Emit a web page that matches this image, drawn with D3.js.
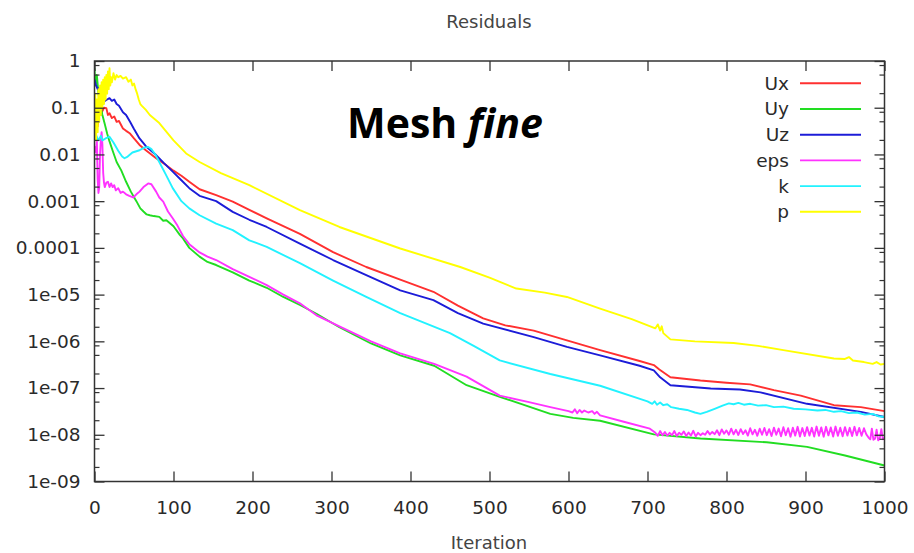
<!DOCTYPE html>
<html><head><meta charset="utf-8">
<script src="https://cdn.jsdelivr.net/npm/d3@7/dist/d3.min.js"></script>
<style>body{margin:0;background:#fff}svg{display:block}</style>
</head><body>
<svg id="chart" width="914" height="553"></svg>
<script>
// ---------- data ----------
const seriesNames = ["Ux", "Uy", "Uz", "eps", "k", "p"];
const seriesColors = ["#ff3030", "#22dd22", "#1c1cd8", "#ff33ff", "#22f2ff", "#ffff00"];
const xTickValues = [0, 100, 200, 300, 400, 500, 600, 700, 800, 900, 1000];
const yTickValues = [1, 0.1, 0.01, 0.001, 0.0001, 1e-5, 1e-6, 1e-7, 1e-8, 1e-9];
const yTickLabels = ["1", "0.1", "0.01", "0.001", "0.0001", "1e-05", "1e-06", "1e-07", "1e-08", "1e-09"];
const titleText = "Residuals";
const xLabelText = "Iteration";

const ux = [[0,0.03],[2,0.06],[4,0.04],[6,0.1],[8,0.07],[10,0.085],[12,0.1],[15,0.098],[17,0.07],[19,0.076],[22,0.06],[25,0.065],[28,0.05],[31,0.052],[36,0.036],[40,0.032],[45,0.028],[50,0.022],[57,0.016],[65,0.0123],[78,0.0083],[90,0.006],[100,0.0045],[110,0.0035],[120,0.0026],[133,0.0018],[154,0.00134],[175,9.8e-4],[196,6.5e-4],[218,4.3e-4],[260,2.0e-4],[302,8.1e-5],[344,3.9e-5],[387,2.1e-5],[429,1.15e-5],[460,5.8e-6],[492,3.1e-6],[520,2.2e-6],[556,1.7e-6],[598,1.05e-6],[640,6.5e-7],[690,3.8e-7],[708,3.1e-7],[715,2.5e-7],[729,1.7e-7],[767,1.45e-7],[800,1.3e-7],[830,1.2e-7],[860,9e-8],[894,6.9e-8],[936,4.3e-8],[970,3.9e-8],[1000,3.2e-8]];

const uy = [[0,0.7],[1,0.3],[3,0.5],[5,0.2],[7,0.12],[10,0.07],[13,0.045],[16,0.028],[19,0.019],[23,0.012],[28,0.0069],[34,0.0045],[40,0.0026],[46,0.0016],[53,0.001],[58,7e-4],[62,6e-4],[66,5.2e-4],[70,5e-4],[75,4.8e-4],[82,4.6e-4],[87,3.8e-4],[91,3.9e-4],[100,2.9e-4],[108,1.9e-4],[112,1.6e-4],[120,1e-4],[133,6.5e-5],[143,5e-5],[154,4.3e-5],[175,3e-5],[196,2e-5],[218,1.4e-5],[239,8.9e-6],[260,6e-6],[281,3.9e-6],[310,2e-6],[350,9e-7],[387,5e-7],[430,3e-7],[471,1.15e-7],[513,6.5e-8],[550,4e-8],[577,2.8e-8],[606,2.3e-8],[640,2e-8],[708,1.02e-8],[767,8.3e-9],[851,6.9e-9],[902,5.5e-9],[950,3.6e-9],[1000,2.2e-9]];

const uz = [[0,0.4],[2,0.3],[4,0.25],[6,0.26],[8,0.1],[10,0.12],[13,0.14],[16,0.15],[19,0.16],[22,0.14],[25,0.15],[28,0.12],[31,0.11],[36,0.08],[40,0.07],[45,0.05],[50,0.035],[57,0.022],[65,0.015],[78,0.0097],[88,0.0065],[99,0.0043],[110,0.0028],[120,0.0019],[133,0.0013],[154,0.001],[175,5.9e-4],[196,4e-4],[218,2.8e-4],[260,1.23e-4],[302,5.5e-5],[344,2.6e-5],[387,1.23e-5],[429,7.6e-6],[460,4e-6],[492,2.4e-6],[556,1.23e-6],[598,7.6e-7],[640,5e-7],[690,3e-7],[708,2.4e-7],[716,1.7e-7],[729,1.15e-7],[780,9.8e-8],[817,9.3e-8],[843,8.1e-8],[902,4.6e-8],[970,3.1e-8],[1000,2.4e-8]];

const eps = [[0,0.015],[2,0.011],[3,0.02],[4,0.003],[5,0.0015],[6,0.002],[7,0.01],[8,0.02],[9,0.03],[10,0.016],[11,0.004],[12,0.0025],[13,0.002],[15,0.0025],[17,0.0026],[19,0.002],[21,0.0024],[23,0.002],[25,0.0022],[27,0.0017],[30,0.0019],[33,0.0015],[36,0.0016],[40,0.0014],[44,0.0013],[49,0.0012],[53,0.0014],[57,0.0016],[62,0.002],[68,0.0024],[72,0.0023],[78,0.0016],[82,0.0012],[87,9.8e-4],[93,6e-4],[99,4.3e-4],[105,3e-4],[112,1.8e-4],[120,1.2e-4],[133,8e-5],[143,6.5e-5],[154,5.5e-5],[175,3.5e-5],[196,2.4e-5],[218,1.6e-5],[239,1e-5],[260,6.5e-6],[281,3.6e-6],[310,2.1e-6],[350,1e-6],[387,5.5e-7],[430,3.3e-7],[471,1.75e-7],[513,6.9e-8],[550,5e-8],[577,3.9e-8],[600,3.2e-8],[605,3e-8],[608,3.5e-8],[611,2.9e-8],[614,3.4e-8],[617,3e-8],[620,3.3e-8],[625,3e-8],[630,3.2e-8],[633,2.8e-8],[636,3.1e-8],[640,2.6e-8],[670,1.9e-8],[703,1.35e-8],
[710,1.1e-8],[713,9.5e-9],[716,1.2e-8],[719,9.8e-9],[722,1.15e-8],[725,9.6e-9],[728,1.1e-8],[731,9.8e-9],[734,1.2e-8],[737,9.5e-9],[740,1.1e-8],[743,1.0e-8],[746,1.18e-8],[749,9.4e-9],[752,1.12e-8],[755,9.6e-9],[758,1.22e-8],[761,9.2e-9],[764,1.1e-8],[767,9.8e-9],[770,1.08e-8],[773,1.0e-8],[776,1.2e-8],[779,1.02e-8],[782,1.15e-8],[785,1.03e-8],[788,1.25e-8],[791,9.8e-9],[794,1.3e-8],[797,1.05e-8],[800,1.24e-8],[803,1.0e-8],[806,1.35e-8],[809,1.02e-8],[812,1.28e-8],[815,9.9e-9],[818,1.32e-8],[821,1.04e-8],[824,1.25e-8],[827,9.6e-9],[830,1.38e-8],[833,1.02e-8],[836,1.28e-8],[839,9.5e-9],[842,1.35e-8],[845,1.0e-8],[848,1.4e-8],[851,9.8e-9],[854,1.32e-8],[857,9.4e-9],[860,1.42e-8],[863,1.0e-8],[866,1.36e-8],[869,9.3e-9],[872,1.45e-8],[875,9.8e-9],[878,1.38e-8],[881,9.1e-9],[884,1.42e-8],[887,9.6e-9],[890,1.48e-8],[893,9.2e-9],[896,1.39e-8],[899,9.4e-9],[902,1.46e-8],[905,9.6e-9],[908,1.41e-8],[911,9.2e-9],[914,1.5e-8],[917,9.5e-9],[920,1.44e-8],[923,9.1e-9],[926,1.48e-8],[929,9.7e-9],[932,1.43e-8],[935,9.2e-9],[938,1.5e-8],[941,9.5e-9],[944,1.42e-8],[947,9.3e-9],[950,1.46e-8],[953,9.6e-9],[956,1.41e-8],[959,9.4e-9],[962,1.48e-8],[965,9.7e-9],[968,1.4e-8],[971,9.5e-9],[974,1.38e-8],[977,1.02e-8],[980,8.6e-9],[982,8.0e-9],[984,1.35e-8],[986,7.8e-9],[988,8.2e-9],[990,1.28e-8],[992,7.6e-9],[994,8.4e-9],[996,1.32e-8],[998,8.0e-9],[1000,8.5e-9]];

const k = [[0,0.03],[2,0.026],[5,0.02],[8,0.025],[10,0.02],[14,0.022],[19,0.024],[24,0.018],[30,0.012],[35,0.009],[38,0.0083],[42,0.009],[48,0.011],[57,0.0123],[63,0.014],[68,0.0145],[72,0.013],[77,0.01],[82,0.0069],[90,0.0038],[99,0.0019],[110,0.001],[120,7e-4],[133,5e-4],[154,3.3e-4],[175,2.4e-4],[196,1.45e-4],[218,1.05e-4],[260,4.7e-5],[302,2e-5],[344,8.9e-6],[387,4e-6],[450,1.5e-6],[480,8e-7],[513,3.9e-7],[577,2e-7],[640,1.12e-7],[700,5.2e-8],[706,4.6e-8],[709,5.2e-8],[712,4.4e-8],[716,4.9e-8],[720,4.3e-8],[725,4.5e-8],[730,3.9e-8],[740,3.6e-8],[750,3.4e-8],[760,3.0e-8],[767,2.8e-8],[775,3.1e-8],[785,3.6e-8],[795,4.2e-8],[803,4.7e-8],[809,4.5e-8],[815,4.8e-8],[822,4.4e-8],[830,4.6e-8],[840,4.2e-8],[850,4.3e-8],[860,3.9e-8],[872,4.0e-8],[885,3.6e-8],[900,3.5e-8],[915,3.3e-8],[925,3.4e-8],[936,3.1e-8],[945,3.2e-8],[955,2.9e-8],[965,3.0e-8],[975,2.7e-8],[985,2.8e-8],[992,2.5e-8],[1000,2.4e-8]];

const p = [[0,0.03],[1,0.2],[2,0.02],[3,0.15],[4,0.03],[5,0.25],[6,0.05],[7,0.3],[8,0.07],[9,0.35],[10,0.1],[11,0.4],[12,0.12],[13,0.45],[14,0.15],[15,0.5],[16,0.2],[17,0.6],[18,0.25],[19,0.7],[20,0.3],[21,0.45],[22,0.35],[24,0.55],[26,0.4],[28,0.5],[30,0.45],[33,0.48],[36,0.42],[40,0.45],[43,0.36],[46,0.4],[48,0.3],[50,0.33],[52,0.25],[54,0.2],[56,0.15],[58,0.12],[60,0.11],[65,0.09],[70,0.07],[82,0.047],[100,0.02],[116,0.0105],[133,0.0069],[160,0.004],[196,0.0022],[260,6.4e-4],[310,2.8e-4],[387,9.7e-5],[463,3.9e-5],[500,2.3e-5],[534,1.35e-5],[570,1.1e-5],[598,8.9e-6],[640,5e-6],[680,3e-6],[710,1.9e-6],[713,2.3e-6],[716,1.7e-6],[718,2.1e-6],[720,1.5e-6],[729,1.1e-6],[760,1.0e-6],[809,9.2e-7],[840,8e-7],[872,6.5e-7],[936,4.3e-7],[950,4.2e-7],[955,4.6e-7],[960,3.9e-7],[974,3.6e-7],[985,3.3e-7],[990,3.6e-7],[995,3.2e-7],[1000,3.3e-7]];

const seriesData = [ux, uy, uz, eps, k, p];

// ---------- layout ----------
const svg = d3.select("#chart");
const L = 94.5, R = 884.5, T = 61, B = 481.5;
const x = d3.scaleLinear().domain([0, 1000]).range([L, R]);
const y = d3.scaleLog().domain([1e-9, 1]).range([B, T]);
const fontFam = "'DejaVu Sans', sans-serif";
const textCol = "#2a2a2a";

svg.append("rect").attr("width", 914).attr("height", 553).attr("fill", "#fff");

svg.append("clipPath").attr("id", "clip").append("rect")
  .attr("x", L).attr("y", T).attr("width", R - L).attr("height", B - T);

const line = d3.line().x(d => x(d[0])).y(d => y(d[1]));
const gLines = svg.append("g").attr("clip-path", "url(#clip)");
seriesData.forEach((s, i) => {
  gLines.append("path").datum(s).attr("d", line)
    .attr("fill", "none").attr("stroke", seriesColors[i])
    .attr("stroke-width", 1.9).attr("stroke-linejoin", "round");
});

const axCol = "#333";
function styleAxis(g) {
  g.select(".domain").remove();
  g.selectAll(".tick line").attr("stroke", axCol).attr("stroke-width", 1.3);
  g.selectAll(".tick text").attr("fill", textCol).style("font-family", fontFam).style("font-size", "18.5px");
}
svg.append("g").attr("transform", `translate(0,${B})`)
  .call(d3.axisBottom(x).tickValues(xTickValues).tickFormat(d3.format("d")).tickSize(-10).tickSizeOuter(0).tickPadding(19))
  .call(styleAxis);
svg.append("g").attr("transform", `translate(0,${T})`)
  .call(d3.axisTop(x).tickValues(xTickValues).tickFormat("").tickSize(-10).tickSizeOuter(0))
  .call(styleAxis);
svg.append("g").attr("transform", `translate(${L},0)`)
  .call(d3.axisLeft(y).tickValues(yTickValues).tickFormat((d, i) => yTickLabels[i]).tickSize(-10).tickSizeOuter(0).tickPadding(14))
  .call(styleAxis);
svg.append("g").attr("transform", `translate(${R},0)`)
  .call(d3.axisRight(y).tickValues(yTickValues).tickFormat("").tickSize(-10).tickSizeOuter(0))
  .call(styleAxis);

const minorVals = [];
yTickValues.slice(1).forEach(dec => [2, 5, 8].forEach(m => minorVals.push(dec * m)));
const gMinor = svg.append("g").attr("stroke", axCol).attr("stroke-width", 1.2);
minorVals.forEach(v => {
  gMinor.append("line").attr("x1", L).attr("x2", L + 5).attr("y1", y(v)).attr("y2", y(v));
  gMinor.append("line").attr("x1", R).attr("x2", R - 5).attr("y1", y(v)).attr("y2", y(v));
});

svg.append("rect").attr("x", L).attr("y", T).attr("width", R - L).attr("height", B - T)
  .attr("fill", "none").attr("stroke", axCol).attr("stroke-width", 1.5);

svg.append("text").attr("x", 489).attr("y", 28).attr("text-anchor", "middle")
  .attr("fill", "#444").style("font-family", fontFam).style("font-size", "18px").text(titleText);
svg.append("text").attr("x", 489).attr("y", 549).attr("text-anchor", "middle")
  .attr("fill", "#444").style("font-family", fontFam).style("font-size", "18px").text(xLabelText);

const legX = 789, legY0 = 83.3, legDy = 25.7;
seriesNames.forEach((n, i) => {
  const yy = legY0 + i * legDy;
  svg.append("text").attr("x", legX).attr("y", yy).attr("dy", "0.35em").attr("text-anchor", "end")
    .attr("fill", textCol).style("font-family", fontFam).style("font-size", "18.5px").text(n);
  svg.append("line").attr("x1", 800).attr("x2", 861).attr("y1", yy).attr("y2", yy)
    .attr("stroke", seriesColors[i]).attr("stroke-width", 1.9);
});

const ann = svg.append("text").attr("x", 347).attr("y", 138)
  .style("font-family", "'Open Sans', sans-serif").style("font-weight", "700").style("font-size", "41px").attr("fill", "#000");
ann.append("tspan").text("Mesh ");
ann.append("tspan").style("font-style", "italic").text("fine");
</script>
</body></html>
